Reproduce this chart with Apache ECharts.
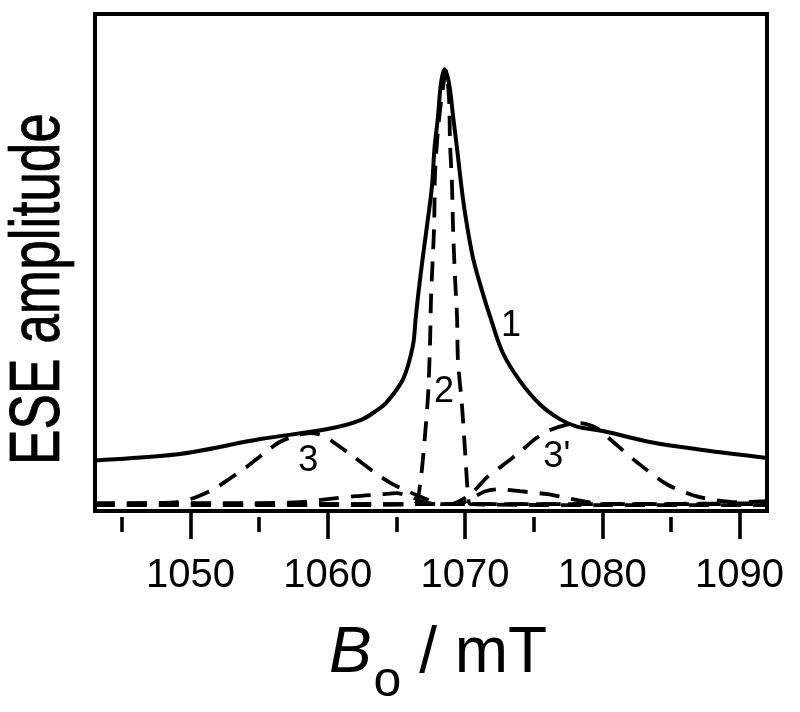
<!DOCTYPE html>
<html>
<head>
<meta charset="utf-8">
<script src="https://cdn.jsdelivr.net/npm/echarts@6/dist/echarts.min.js"></script>
<style>html,body{margin:0;padding:0;background:#fff;}#c{width:800px;height:712px;}</style>
</head>
<body>
<div id="c"></div>
<script>
// x-axis range and ticks (mT)
const xMin = 1043.05;
const xMax = 1092;
const majorTicks = [1050, 1060, 1070, 1080, 1090];
const minorTicks = [1045, 1055, 1065, 1075, 1085];

// curve 1: total spectrum (solid)
const field1 = [1043.05, 1047.8, 1050.2, 1055.1, 1060.0, 1062.4, 1063.6, 1064.3, 1065.5, 1066.2, 1066.4, 1066.6, 1066.95, 1067.31, 1067.6, 1067.78, 1068.04, 1068.25, 1068.51, 1068.84, 1069.13, 1069.42, 1069.71, 1070.0, 1070.58, 1071.31, 1071.82, 1072.76, 1074.0, 1075.45, 1076.91, 1078.15, 1080.04, 1083.67, 1087.31, 1092.0];
const amp1 = [0.102, 0.111, 0.119, 0.145, 0.165, 0.183, 0.203, 0.219, 0.266, 0.332, 0.385, 0.437, 0.515, 0.590, 0.655, 0.730, 0.795, 0.860, 0.889, 0.860, 0.795, 0.730, 0.660, 0.600, 0.510, 0.437, 0.392, 0.318, 0.262, 0.215, 0.185, 0.170, 0.161, 0.138, 0.123, 0.107];

// curve 2: narrow central component (dashed)
const field2 = [1043.05, 1060.0, 1066.3, 1066.73, 1067.09, 1067.31, 1067.45, 1067.53, 1067.75, 1067.82, 1068.04, 1068.33, 1068.62, 1068.84, 1068.91, 1069.05, 1069.13, 1069.27, 1069.42, 1069.49, 1069.78, 1070.0, 1070.22, 1070.4, 1080.0, 1092.0];
const amp2 = [0.012, 0.012, 0.014, 0.054, 0.153, 0.233, 0.332, 0.431, 0.571, 0.680, 0.769, 0.839, 0.885, 0.829, 0.740, 0.660, 0.571, 0.471, 0.392, 0.302, 0.213, 0.123, 0.034, 0.014, 0.012, 0.012];

// curve 3: low-field broad component (dashed)
const field3 = [1043.05, 1049.1, 1050.4, 1051.7, 1052.9, 1054.1, 1055.3, 1056.5, 1057.6, 1058.7, 1059.6, 1060.4, 1061.9, 1063.3, 1064.5, 1065.5, 1067.2, 1068.4, 1092.0];
const amp3 = [0.014, 0.018, 0.028, 0.044, 0.066, 0.089, 0.115, 0.139, 0.151, 0.157, 0.153, 0.139, 0.109, 0.080, 0.058, 0.044, 0.024, 0.014, 0.014];

// curve 3': high-field broad component (dashed)
const field3p = [1043.05, 1068.9, 1070.4, 1071.6, 1072.8, 1074.0, 1075.2, 1076.2, 1077.3, 1078.4, 1079.6, 1080.8, 1082.5, 1084.7, 1087.1, 1089.8, 1092.0];
const amp3p = [0.014, 0.014, 0.034, 0.068, 0.093, 0.119, 0.147, 0.163, 0.173, 0.177, 0.167, 0.139, 0.099, 0.054, 0.028, 0.018, 0.020];

// small low-field shoulder component (dashed)
const field4 = [1043.05, 1055.0, 1058.0, 1060.0, 1062.0, 1064.0, 1065.0, 1066.0, 1067.0, 1068.0, 1092.0];
const amp4 = [0.016, 0.016, 0.018, 0.024, 0.030, 0.034, 0.036, 0.030, 0.018, 0.014, 0.014];

// small high-field shoulder component (dashed)
const field4p = [1043.05, 1069.5, 1070.5, 1071.5, 1072.5, 1074.0, 1076.0, 1077.5, 1079.0, 1080.5, 1092.0];
const amp4p = [0.014, 0.014, 0.026, 0.040, 0.044, 0.040, 0.034, 0.026, 0.018, 0.014, 0.016];

// curve labels
const labelNames = ['1', '2', '3', "3'"];
const labelField = [1073.35, 1068.47, 1058.58, 1076.69];
const labelAmp = [0.372, 0.239, 0.101, 0.109];

const FONT = '"Liberation Sans", Arial, Helvetica, sans-serif';
function pairs(xs, ys) { return xs.map((x, i) => [x, ys[i]]); }

const dashed = { color: '#000', width: 3.8, type: [20, 12], cap: 'butt' };
function dashSeries(name, xs, ys) {
  return { name: name, type: 'line', data: pairs(xs, ys), showSymbol: false, smooth: 0.25,
           lineStyle: dashed, z: 3, silent: true };
}

const chart = echarts.init(document.getElementById('c'), null, { renderer: 'canvas' });
const gridRect = { left: 95, right: 33, top: 14, bottom: 195 };
chart.setOption({
  animation: false,
  backgroundColor: '#fff',
  grid: [
    Object.assign({ show: true, borderColor: '#000', borderWidth: 4, backgroundColor: 'transparent', containLabel: false }, gridRect),
    Object.assign({ show: false, containLabel: false }, gridRect)
  ],
  xAxis: [
    {
      type: 'value', gridIndex: 0, min: xMin, max: xMax, position: 'bottom',
      axisLine: { show: true, lineStyle: { color: '#000', width: 4 } },
      axisTick: { show: true, customValues: majorTicks, length: 28, lineStyle: { color: '#000', width: 3.6 } },
      axisLabel: { show: true, customValues: majorTicks, fontSize: 40, color: '#000', fontFamily: FONT, margin: 45,
                   formatter: function (v) { return String(Math.round(v)); } },
      splitLine: { show: false },
      name: '{i|B}{sub|o}{n| / mT}',
      nameLocation: 'middle',
      nameGap: 78,
      nameTextStyle: {
        color: '#000', fontFamily: FONT, padding: [0, 0, 0, 14],
        rich: {
          i: { fontSize: 64, fontStyle: 'italic', fontFamily: FONT, color: '#000', lineHeight: 64 },
          sub: { fontSize: 50, fontFamily: FONT, color: '#000', lineHeight: 50, padding: [56, 0, 0, 2] },
          n: { fontSize: 64, fontFamily: FONT, color: '#000', lineHeight: 64 }
        }
      }
    },
    {
      type: 'value', gridIndex: 1, min: xMin, max: xMax, position: 'bottom',
      axisLine: { show: false },
      axisTick: { show: true, customValues: minorTicks, length: 15, lineStyle: { color: '#000', width: 3.6 } },
      axisLabel: { show: false },
      splitLine: { show: false }
    }
  ],
  yAxis: [
    { type: 'value', gridIndex: 0, min: 0, max: 1, show: true,
      axisLine: { show: false }, axisTick: { show: false }, axisLabel: { show: false }, splitLine: { show: false } },
    { type: 'value', gridIndex: 1, min: 0, max: 1, show: false }
  ],
  graphic: [
    {
      type: 'text', x: 40, y: 289, rotation: Math.PI / 2, scaleX: 0.76,
      style: { text: 'ESE amplitude', font: '70px ' + FONT, fill: '#000', stroke: '#000', lineWidth: 0.8,
               align: 'center', verticalAlign: 'middle', textAlign: 'center', textVerticalAlign: 'middle' }
    }
  ],
  series: [
    dashSeries('4', field4, amp4),
    dashSeries("4'", field4p, amp4p),
    dashSeries('3', field3, amp3),
    dashSeries("3'", field3p, amp3p),
    dashSeries('2', field2, amp2),
    { name: '1', type: 'line', data: pairs(field1, amp1), showSymbol: false, smooth: 0.35,
      lineStyle: { color: '#000', width: 4 }, z: 4, silent: true },
    { name: 'labels', type: 'scatter', symbolSize: 0, silent: true, z: 5,
      itemStyle: { opacity: 1, color: '#000' },
      data: labelNames.map((n, i) => ({ name: n, value: [labelField[i], labelAmp[i]] })),
      label: { show: true, position: 'inside', formatter: '{b}', fontSize: 36, color: '#000', opacity: 1,
               fontFamily: FONT, align: 'center', verticalAlign: 'middle' } }
  ]
});
</script>
</body>
</html>
